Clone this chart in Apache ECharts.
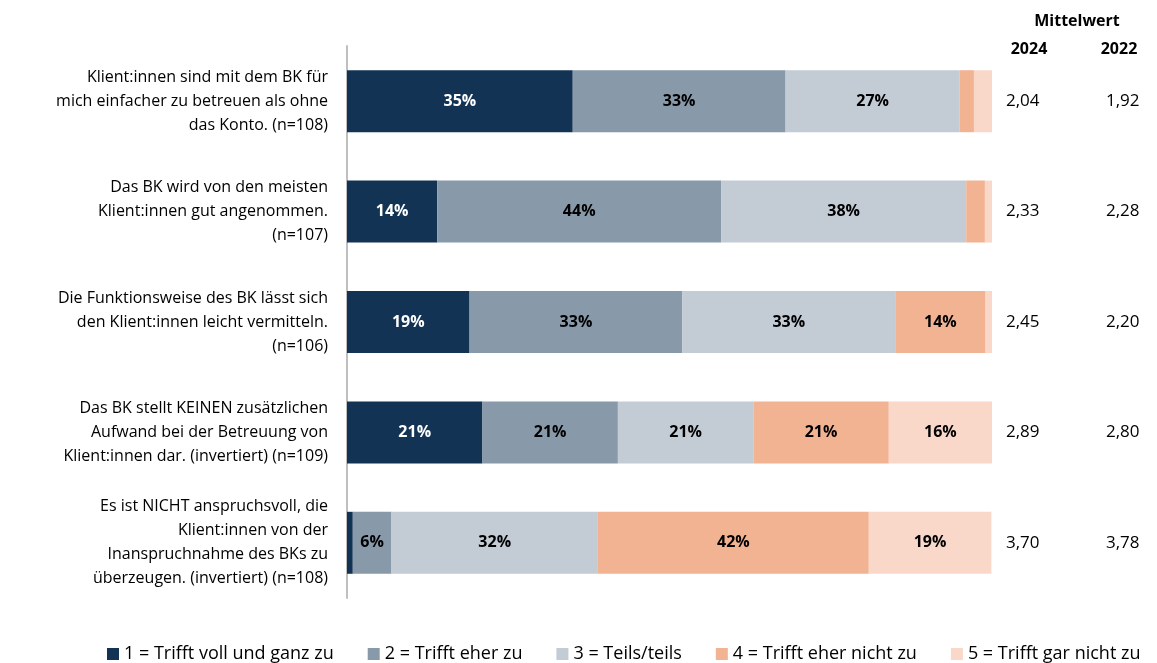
<!DOCTYPE html>
<html><head><meta charset="utf-8">
<script src="https://cdn.jsdelivr.net/npm/echarts@6/dist/echarts.min.js"></script>
<style>html,body{margin:0;padding:0;background:#fff}#c{width:1157px;height:663px}</style>
</head><body><div id="c"></div>
<script>
const categories = [
  "Klient:innen sind mit dem BK für\nmich einfacher zu betreuen als ohne\ndas Konto. (n=108)",
  "Das BK wird von den meisten\nKlient:innen gut angenommen.\n(n=107)",
  "Die Funktionsweise des BK lässt sich\nden Klient:innen leicht vermitteln.\n(n=106)",
  "Das BK stellt KEINEN zusätzlichen\nAufwand bei der Betreuung von\nKlient:innen dar. (invertiert) (n=109)",
  "Es ist NICHT anspruchsvoll, die\nKlient:innen von der\nInanspruchnahme des BKs zu\nüberzeugen. (invertiert) (n=108)"
];
const seriesNames = ["1 = Trifft voll und ganz zu","2 = Trifft eher zu","3 = Teils/teils","4 = Trifft eher nicht zu","5 = Trifft gar nicht zu"];
const s1 = [35, 14, 19, 21, 0.9];
const s2 = [33, 44, 33, 21, 6];
const s3 = [27, 38, 33, 21, 32];
const s4 = [2.2, 2.9, 14, 21, 42];
const s5 = [2.9, 1.1, 1.1, 16, 19];
const mean2024 = ["2,04","2,33","2,45","2,89","3,70"];
const mean2022 = ["1,92","2,28","2,20","2,80","3,78"];
const colors = ["#133355","#8899AA","#C3CBD5","#F2B393","#F9D8C9"];
const labelColors = ["#ffffff","#000000","#000000","#000000","#000000"];
const FONT = "Open Sans";
const values = [s1,s2,s3,s4,s5];

const chart = echarts.init(document.getElementById('c'));
chart.setOption({
  animation:false,
  textStyle:{fontFamily:FONT},
  title:[
    {text:"Mittelwert", left:1072, top:8, textAlign:'center', textStyle:{fontFamily:FONT,fontSize:16,fontWeight:'bold',color:'#000'}},
    {text:"2024", left:1024, top:36, textAlign:'center', textStyle:{fontFamily:FONT,fontSize:16,fontWeight:'bold',color:'#000'}},
    {text:"2022", left:1114, top:36, textAlign:'center', textStyle:{fontFamily:FONT,fontSize:16,fontWeight:'bold',color:'#000'}}
  ],
  grid:{left:347, right:165, top:46, height:552},
  legend:{top:640, left:102, width:1055, padding:[5,0,5,5], itemWidth:12, itemHeight:12, itemGap:34, icon:'rect',
    textStyle:{fontFamily:FONT,fontSize:18,color:'#000'}, data:seriesNames},
  xAxis:{type:'value', min:0, max:100, show:false},
  yAxis:[
    {type:'category', inverse:true, data:categories,
     axisLine:{show:true, lineStyle:{color:'#BFBFBF', width:2}}, axisTick:{show:false},
     axisLabel:{fontFamily:FONT, fontSize:16, color:'#000', lineHeight:24, margin:19, align:'right'}},
    {type:'category', inverse:true, data:categories, position:'right',
     axisLine:{show:false}, axisTick:{show:false},
     axisLabel:{margin:14, align:'left', formatter:(v,i)=>'{a|'+mean2024[i]+'}{b|'+mean2022[i]+'}',
       rich:{a:{width:100, fontFamily:FONT, fontSize:17, color:'#000'}, b:{fontFamily:FONT, fontSize:17, color:'#000'}}}}
  ],
  series: values.map((arr,k)=>({
    name:seriesNames[k], type:'bar', stack:'all', barWidth:62,
    itemStyle:{color:colors[k]},
    label:{show:true, position:'inside', fontFamily:FONT, fontSize:16, fontWeight:'bold', color:labelColors[k],
      formatter:p=> p.value>=5 ? Math.round(p.value)+'%' : ''},
    data:arr
  }))
});
</script></body></html>
